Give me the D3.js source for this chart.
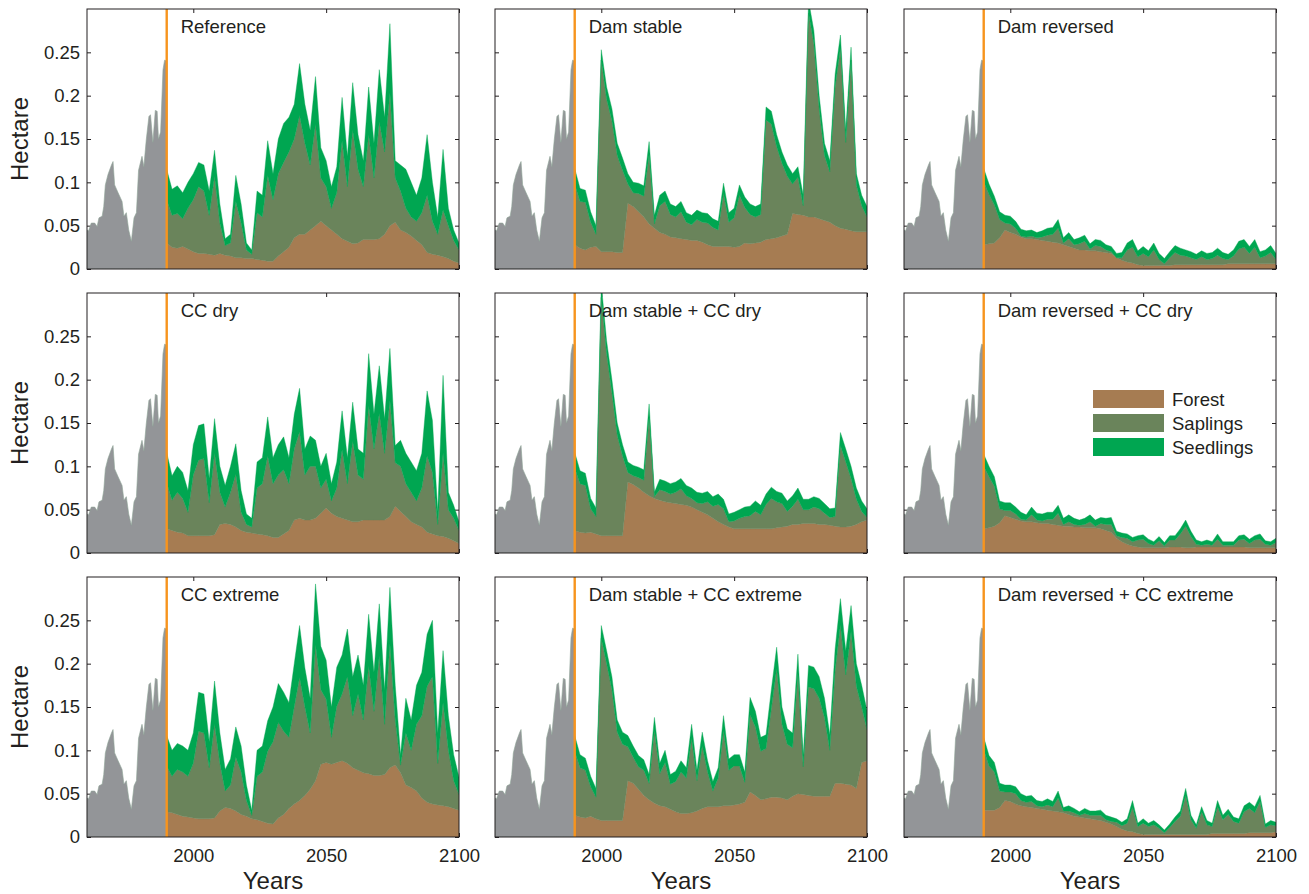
<!DOCTYPE html>
<html>
<head>
<meta charset="utf-8">
<script src="https://cdn.jsdelivr.net/npm/d3@7"></script>
<style>
  body { margin: 0; background: #fff; }
  text { font-family: "Liberation Sans", Arial, Helvetica, sans-serif; fill: #231f20; }
</style>
</head>
<body>
<script>
// ---- data ----
var panelTitles = ["Reference", "Dam stable", "Dam reversed",
                   "CC dry", "Dam stable + CC dry", "Dam reversed + CC dry",
                   "CC extreme", "Dam stable + CC extreme", "Dam reversed + CC extreme"];

var yTicks = [0, 0.05, 0.1, 0.15, 0.2, 0.25],
    xTicks = [2000, 2050, 2100];

// observed area before 1990 (same in every panel)
var histYears = [1960, 1960.6, 1961.6, 1962.9, 1963.8, 1964.5, 1965.7, 1966.3, 1966.9, 1967.9,
                 1969.2, 1969.8, 1970.4, 1971.7, 1973.2, 1973.9, 1974.8, 1975.7, 1976.7, 1977.7,
                 1978.6, 1979.4, 1980.7, 1981.4, 1982.3, 1983.3, 1983.9, 1984.8, 1985.7, 1986.4,
                 1986.9, 1987.7, 1988.6, 1989.2, 1990];
var histArea = [0.045, 0.044, 0.053, 0.053, 0.049, 0.059, 0.061, 0.072, 0.097, 0.109,
                0.120, 0.124, 0.097, 0.088, 0.078, 0.061, 0.065, 0.045, 0.032, 0.059,
                0.065, 0.114, 0.130, 0.118, 0.149, 0.176, 0.178, 0.146, 0.183, 0.182,
                0.150, 0.158, 0.230, 0.241, 0.240];

// simulated years 1990..2100, every 2 years
var years = d3.range(1990, 2101, 2);

var refForest = [.030,.025,.024,.026,.023,.020,.018,.018,.017,.016,
                 .018,.016,.015,.013,.013,.012,.012,.011,.010,.009,
                 .009,.015,.020,.025,.036,.040,.040,.045,.050,.055,
                 .050,.045,.040,.035,.032,.029,.030,.034,.034,.034,
                 .035,.040,.050,.054,.045,.042,.038,.033,.028,.019,
                 .017,.016,.014,.012,.009,.007];
var refSaplings = [.050,.037,.040,.032,.047,.060,.077,.072,.045,.091,
                   .035,.011,.015,.065,.040,.010,.005,.054,.050,.099,
                   .071,.095,.103,.110,.114,.137,.105,.075,.117,.050,
                   .045,.025,.048,.113,.063,.131,.085,.061,.121,.071,
                   .135,.095,.153,.051,.045,.028,.022,.022,.037,.066,
                   .038,.024,.054,.038,.024,.015];
var refSeedlings = [.035,.030,.032,.030,.030,.030,.028,.030,.028,.030,
                    .022,.008,.010,.030,.022,.008,.005,.025,.025,.040,
                    .030,.040,.045,.040,.040,.060,.045,.040,.055,.035,
                    .030,.025,.030,.050,.035,.055,.040,.030,.055,.040,
                    .060,.040,.080,.020,.030,.045,.040,.030,.040,.070,
                    .045,.020,.070,.020,.012,.008];

var damForest = [.028,.024,.022,.025,.026,.020,.020,.020,.019,.019,
                 .076,.072,.066,.060,.052,.047,.042,.040,.037,.036,
                 .035,.034,.033,.033,.031,.028,.026,.026,.026,.026,
                 .025,.026,.030,.029,.030,.031,.034,.035,.036,.038,
                 .040,.064,.063,.062,.060,.060,.058,.056,.054,.050,
                 .047,.046,.044,.043,.043,.043];
var damSaplings = [.070,.054,.055,.029,.014,.221,.176,.151,.112,.095,
                   .022,.016,.021,.024,.080,.005,.031,.038,.026,.024,
                   .031,.020,.018,.024,.023,.025,.022,.019,.061,.028,
                   .034,.059,.041,.034,.030,.032,.138,.132,.105,.084,
                   .067,.034,.043,.011,.235,.200,.127,.075,.058,.160,
                   .208,.100,.197,.054,.030,.017];
var damSeedlings = [.018,.015,.014,.012,.010,.012,.014,.014,.014,.014,
                    .012,.012,.012,.012,.015,.010,.012,.012,.012,.012,
                    .012,.011,.011,.011,.011,.011,.010,.010,.012,.011,
                    .011,.012,.012,.012,.012,.012,.015,.015,.014,.013,
                    .013,.012,.012,.012,.015,.015,.015,.014,.013,.015,
                    .015,.014,.015,.013,.012,.012];

var revForest = [.028,.029,.030,.036,.045,.042,.040,.037,.035,.035,
                 .034,.033,.032,.031,.030,.028,.026,.024,.022,.022,
                 .021,.021,.020,.019,.018,.013,.010,.008,.007,.005,
                 .004,.004,.004,.004,.004,.004,.005,.005,.005,.005,
                 .005,.005,.005,.005,.005,.005,.006,.006,.006,.006,
                 .006,.006,.006,.006,.006,.006];
var revSaplings = [.073,.057,.044,.021,.008,.010,.007,.001,.002,.003,
                   .002,.004,.007,.009,.017,.002,.009,.004,.007,.010,
                   .002,.006,.006,.003,.002,.000,.003,.014,.018,.009,
                   .014,.010,.018,.007,.002,.009,.014,.011,.010,.008,
                   .006,.009,.006,.007,.011,.007,.005,.009,.017,.019,
                   .012,.019,.007,.009,.013,.005];
var revSeedlings = [.015,.012,.010,.009,.009,.009,.008,.008,.007,.007,
                    .006,.007,.008,.008,.010,.006,.007,.006,.007,.007,
                    .006,.007,.007,.006,.006,.005,.006,.008,.009,.007,
                    .008,.007,.008,.007,.006,.007,.008,.008,.007,.007,
                    .006,.007,.007,.007,.008,.007,.006,.007,.009,.009,
                    .008,.009,.007,.007,.008,.007];

var dryForest = [.028,.026,.024,.023,.020,.020,.020,.020,.020,.021,
                 .033,.034,.033,.030,.026,.024,.023,.022,.021,.020,
                 .018,.018,.022,.026,.038,.040,.038,.038,.040,.046,
                 .052,.046,.042,.040,.038,.036,.036,.038,.038,.038,
                 .038,.038,.042,.054,.048,.042,.036,.033,.030,.024,
                 .022,.020,.019,.017,.014,.011];
var drySaplings = [.053,.035,.046,.040,.027,.070,.087,.089,.038,.094,
                   .037,.019,.037,.061,.021,.009,.007,.053,.059,.092,
                   .062,.072,.074,.054,.082,.100,.052,.062,.060,.029,
                   .033,.014,.033,.079,.042,.093,.054,.047,.132,.082,
                   .123,.077,.134,.050,.052,.038,.034,.027,.045,.088,
                   .071,.013,.096,.033,.026,.015];
var drySeedlings = [.035,.028,.030,.030,.025,.035,.040,.040,.028,.040,
                    .030,.025,.030,.035,.025,.012,.010,.030,.030,.045,
                    .030,.035,.038,.030,.040,.050,.030,.035,.030,.025,
                    .030,.020,.030,.045,.030,.045,.030,.030,.060,.040,
                    .055,.040,.060,.020,.030,.035,.035,.035,.040,.075,
                    .060,.015,.090,.020,.015,.010];

var damDryForest = [.026,.024,.023,.024,.022,.020,.020,.020,.020,.020,
                    .082,.079,.075,.070,.066,.063,.061,.059,.058,.057,
                    .056,.055,.053,.050,.047,.044,.040,.036,.033,.030,
                    .028,.028,.028,.028,.028,.028,.028,.028,.029,.030,
                    .031,.033,.033,.034,.034,.034,.033,.033,.032,.031,
                    .030,.030,.031,.033,.036,.038];
var damDrySaplings = [.072,.056,.055,.027,.020,.275,.210,.165,.116,.092,
                      .011,.010,.012,.014,.091,.002,.012,.012,.010,.013,
                      .018,.011,.010,.008,.010,.015,.014,.020,.018,.006,
                      .009,.012,.014,.015,.020,.016,.028,.035,.030,.027,
                      .017,.021,.029,.016,.016,.019,.018,.013,.009,.011,
                      .094,.075,.055,.029,.012,.003];
var damDrySeedlings = [.018,.015,.014,.012,.010,.015,.015,.015,.014,.013,
                       .012,.012,.012,.012,.015,.005,.012,.012,.012,.012,
                       .012,.012,.012,.012,.012,.012,.011,.012,.011,.009,
                       .010,.010,.011,.011,.012,.011,.012,.013,.012,.012,
                       .012,.012,.013,.012,.012,.012,.012,.011,.010,.010,
                       .015,.015,.014,.013,.012,.010];

var revDryForest = [.028,.029,.031,.035,.043,.041,.039,.037,.036,.036,
                    .035,.034,.034,.033,.032,.031,.031,.030,.030,.029,
                    .029,.029,.028,.026,.024,.017,.013,.010,.008,.007,
                    .006,.006,.006,.006,.006,.007,.007,.007,.006,.006,
                    .007,.007,.007,.007,.007,.007,.007,.007,.007,.007,
                    .006,.006,.006,.006,.006,.006];
var revDrySaplings = [.072,.059,.046,.016,.006,.008,.006,.002,.002,.008,
                      .003,.003,.005,.006,.014,.002,.005,.003,.002,.004,
                      .007,.002,.006,.007,.009,.003,.005,.007,.005,.008,
                      .010,.005,.003,.008,.002,.008,.008,.015,.025,.013,
                      .003,.002,.003,.002,.009,.002,.002,.002,.008,.009,
                      .005,.009,.010,.004,.003,.006];
var revDrySeedlings = [.014,.012,.011,.009,.009,.009,.008,.008,.006,.009,
                       .008,.008,.008,.008,.009,.007,.008,.007,.006,.007,
                       .008,.007,.007,.007,.008,.005,.005,.005,.005,.005,
                       .005,.005,.004,.005,.004,.005,.005,.006,.007,.006,
                       .005,.004,.005,.004,.006,.004,.004,.004,.005,.005,
                       .005,.005,.006,.004,.004,.005];

var extForest = [.029,.028,.026,.024,.023,.022,.021,.021,.021,.022,
                 .030,.034,.033,.030,.026,.024,.021,.020,.018,.016,
                 .015,.022,.026,.033,.038,.042,.048,.055,.065,.084,
                 .086,.084,.086,.088,.085,.080,.077,.074,.073,.071,
                 .071,.072,.080,.083,.074,.060,.057,.053,.045,.040,
                 .038,.037,.036,.035,.033,.031];
var extSaplings = [.053,.042,.052,.051,.047,.063,.101,.099,.059,.108,
                   .055,.019,.027,.062,.049,.018,.004,.050,.057,.083,
                   .095,.110,.096,.082,.112,.142,.102,.065,.157,.086,
                   .073,.031,.065,.077,.100,.060,.088,.061,.124,.074,
                   .138,.058,.143,.052,.009,.060,.043,.077,.095,.134,
                   .147,.048,.119,.065,.032,.018];
var extSeedlings = [.035,.030,.030,.030,.030,.035,.045,.045,.030,.050,
                    .035,.025,.030,.035,.030,.018,.006,.030,.030,.035,
                    .040,.045,.045,.040,.050,.060,.045,.040,.070,.050,
                    .045,.035,.045,.045,.055,.045,.045,.040,.060,.045,
                    .060,.040,.065,.040,.012,.040,.035,.045,.050,.060,
                    .065,.035,.060,.040,.030,.020];

var damExtForest = [.025,.023,.022,.024,.021,.019,.019,.019,.019,.019,
                    .065,.062,.055,.048,.043,.039,.036,.035,.032,.029,
                    .027,.027,.028,.030,.033,.035,.035,.035,.036,.036,
                    .037,.038,.040,.052,.048,.043,.044,.046,.046,.045,
                    .043,.047,.050,.049,.048,.047,.047,.047,.047,.062,
                    .062,.061,.060,.056,.086,.088];
var damExtSaplings = [.074,.057,.055,.034,.025,.210,.181,.151,.102,.088,
                      .039,.030,.026,.029,.019,.084,.037,.051,.029,.035,
                      .048,.041,.086,.035,.072,.040,.018,.033,.087,.041,
                      .045,.044,.023,.089,.079,.056,.058,.102,.148,.085,
                      .064,.056,.139,.032,.125,.124,.113,.091,.053,.130,
                      .183,.126,.177,.118,.064,.036];
var damExtSeedlings = [.018,.015,.014,.012,.010,.015,.015,.015,.014,.014,
                       .013,.013,.013,.012,.010,.015,.012,.014,.011,.012,
                       .013,.012,.016,.012,.016,.013,.011,.012,.017,.013,
                       .013,.013,.012,.020,.018,.016,.016,.022,.025,.020,
                       .018,.017,.022,.013,.025,.025,.025,.022,.018,.025,
                       .030,.028,.030,.026,.025,.022];

var revExtForest = [.031,.031,.031,.034,.042,.041,.038,.036,.035,.034,
                    .033,.032,.031,.030,.029,.028,.026,.024,.023,.022,
                    .021,.020,.019,.017,.015,.012,.009,.007,.006,.004,
                    .003,.003,.003,.003,.003,.003,.003,.003,.003,.003,
                    .003,.003,.003,.004,.004,.004,.004,.004,.004,.004,
                    .005,.005,.005,.005,.005,.006];
var revExtSaplings = [.070,.051,.044,.019,.010,.011,.012,.006,.005,.007,
                      .003,.003,.006,.005,.016,.002,.004,.004,.002,.005,
                      .004,.005,.006,.003,.003,.005,.004,.009,.028,.008,
                      .013,.009,.011,.007,.002,.008,.015,.021,.045,.017,
                      .007,.026,.011,.008,.031,.016,.022,.014,.012,.025,
                      .028,.023,.036,.006,.009,.007];
var revExtSeedlings = [.014,.012,.011,.009,.008,.008,.008,.008,.007,.007,
                       .006,.006,.007,.006,.008,.004,.006,.005,.004,.006,
                       .005,.005,.006,.005,.005,.004,.004,.005,.008,.004,
                       .005,.004,.005,.004,.003,.004,.005,.006,.008,.005,
                       .004,.006,.005,.004,.007,.005,.006,.005,.005,.007,
                       .007,.007,.007,.004,.005,.004];

var legendNames = ["Forest", "Saplings", "Seedlings"];

// ---- layout ----
var width = 1309, height = 894,
    panelW = 372, panelH = 260,
    colLeft = [87, 495, 904],
    rowTop = [9, 293, 577],
    ink = "#231f20",
    histColor = "#939598",
    lineColor = "#f7941d",
    colors = {forest: "#a67c52", saplings: "#6a845b", seedlings: "#00a651"},
    keys = ["forest", "saplings", "seedlings"];

var panels = [
    {forest: refForest, saplings: refSaplings, seedlings: refSeedlings},
    {forest: damForest, saplings: damSaplings, seedlings: damSeedlings},
    {forest: revForest, saplings: revSaplings, seedlings: revSeedlings},
    {forest: dryForest, saplings: drySaplings, seedlings: drySeedlings},
    {forest: damDryForest, saplings: damDrySaplings, seedlings: damDrySeedlings},
    {forest: revDryForest, saplings: revDrySaplings, seedlings: revDrySeedlings},
    {forest: extForest, saplings: extSaplings, seedlings: extSeedlings},
    {forest: damExtForest, saplings: damExtSaplings, seedlings: damExtSeedlings},
    {forest: revExtForest, saplings: revExtSaplings, seedlings: revExtSeedlings}
];

var x = d3.scaleLinear().domain([1960, 2100]).range([0, panelW]);
var y = d3.scaleLinear().domain([0, 0.3]).range([panelH, 0]);

var noLabel = function() { return ""; };

var svg = d3.select("body").append("svg")
            .attr("width", width)
            .attr("height", height)
            .style("display", "block");

function styleAxis(sel) {
    sel.select(".domain").remove();
    sel.style("color", ink)
       .attr("font-family", null)
       .attr("font-size", null);
    sel.selectAll("text").style("font-size", "18.5px");
}

var histArea2 = d3.area()
                  .x(function(d) { return x(d.year); })
                  .y0(y(0))
                  .y1(function(d) { return y(d.value); });

var bandArea = d3.area()
                 .x(function(d) { return x(d.data.year); })
                 .y0(function(d) { return y(d[0]); })
                 .y1(function(d) { return y(d[1]); });

var histRows = histYears.map(function(yr, i) { return {year: yr, value: histArea[i]}; });

panels.forEach(function(p, i) {
    var col = i % 3,
        row = Math.floor(i / 3);

    var g = svg.append("g")
               .attr("transform", "translate(" + colLeft[col] + "," + rowTop[row] + ")");

    // ticks (under the data, like the original)
    g.append("g")
     .call(d3.axisLeft(y).tickValues(yTicks).tickSize(-4).tickPadding(7)
             .tickFormat(col === 0 ? d3.format("") : noLabel))
     .call(styleAxis);
    g.append("g")
     .attr("transform", "translate(" + panelW + ",0)")
     .call(d3.axisRight(y).tickValues(yTicks).tickSize(-4).tickFormat(noLabel))
     .call(styleAxis);
    g.append("g")
     .call(d3.axisTop(x).tickValues(xTicks).tickSize(-4).tickFormat(noLabel))
     .call(styleAxis);
    g.append("g")
     .attr("transform", "translate(0," + panelH + ")")
     .call(d3.axisBottom(x).tickValues(xTicks).tickSize(-4).tickPadding(12)
             .tickFormat(row === 2 ? d3.format("d") : noLabel))
     .call(styleAxis);

    svg.append("clipPath")
       .attr("id", "clip" + i)
       .append("rect")
       .attr("width", panelW)
       .attr("height", panelH);

    var plot = g.append("g").attr("clip-path", "url(#clip" + i + ")");

    plot.append("path")
        .datum(histRows)
        .attr("d", histArea2)
        .attr("fill", histColor)
        .attr("stroke", "#8fa597")
        .attr("stroke-width", 0.6);

    var rows = years.map(function(yr, k) {
        return {year: yr, forest: p.forest[k], saplings: p.saplings[k], seedlings: p.seedlings[k]};
    });
    var series = d3.stack().keys(keys)(rows);

    plot.selectAll(".band")
        .data(series)
        .enter()
        .append("path")
        .attr("class", "band")
        .attr("d", bandArea)
        .attr("fill", function(d) { return colors[d.key]; })
        .attr("stroke", function(d) { return colors[d.key]; })
        .attr("stroke-width", 0.4);

    g.append("line")
     .attr("x1", x(1990)).attr("x2", x(1990))
     .attr("y1", 0).attr("y2", panelH)
     .attr("stroke", lineColor)
     .attr("stroke-width", 2.4);

    g.append("rect")
     .attr("width", panelW)
     .attr("height", panelH)
     .attr("fill", "none")
     .attr("stroke", ink)
     .attr("stroke-width", 1);

    g.append("text")
     .attr("x", x(1990) + 14)
     .attr("y", 24)
     .style("font-size", "18.5px")
     .text(panelTitles[i]);

    if (col === 0) {
        g.append("text")
         .attr("transform", "translate(-59," + (panelH / 2) + ") rotate(-90)")
         .attr("text-anchor", "middle")
         .style("font-size", "24px")
         .text("Hectare");
    }
    if (row === 2) {
        g.append("text")
         .attr("x", panelW / 2)
         .attr("y", panelH + 52)
         .attr("text-anchor", "middle")
         .style("font-size", "24px")
         .text("Years");
    }

    if (i === 5) {
        var leg = g.append("g").attr("transform", "translate(189,97)");
        var items = leg.selectAll(".legendRow")
                       .data(keys)
                       .enter()
                       .append("g")
                       .attr("class", "legendRow")
                       .attr("transform", function(d, k) { return "translate(0," + (k * 24) + ")"; });
        items.append("rect")
             .attr("width", 71)
             .attr("height", 18)
             .attr("fill", function(d) { return colors[d]; });
        items.append("text")
             .attr("x", 79)
             .attr("y", 16)
             .style("font-size", "18.5px")
             .text(function(d, k) { return legendNames[k]; });
    }
});
</script>
</body>
</html>
